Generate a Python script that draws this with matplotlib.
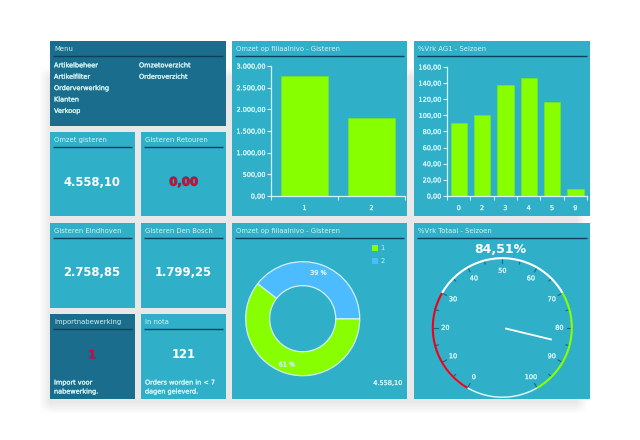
"""Recreate the sales dashboard: tile grid, two bar charts, a donut and a gauge."""
import matplotlib

matplotlib.use("Agg")
import matplotlib.patheffects as pe
import matplotlib.pyplot as plt
import numpy as np
from matplotlib.patches import Patch, Rectangle

# data
menu_col1 = ["Artikelbeheer", "Artikelfilter", "Orderverwerking", "Klanten", "Verkoop"]
menu_col2 = ["Omzetoverzicht", "Orderoverzicht"]
filiaal_labels = ["1", "2"]
filiaal_omzet = [2758.85, 1799.25]
filiaal_ticks = [0, 500, 1000, 1500, 2000, 2500, 3000]
ag_labels = ["0", "2", "3", "4", "5", "9"]
ag_values = [90, 100, 138, 146, 117, 9]
ag_ticks = [0, 20, 40, 60, 80, 100, 120, 140, 160]
gauge_value = 84.51
gauge_ticks = [0, 10, 20, 30, 40, 50, 60, 70, 80, 90, 100]

W, H = 640, 440
TILE = "#30b0c8"
DARK = "#1a6d8c"
LIGHT = "#d0f3f3"
LINE = "#0c3f58"
GREEN = "#88ff00"
BLUE = "#4cbcff"
RED = "#ee0018"
SMALL = 4.7


def nl(v, decimals=2):
    """Dutch number format, 2758.85 -> 2.758,85"""
    s = f"{v:,.{decimals}f}"
    return s.replace(",", "X").replace(".", ",").replace("X", ".")


# regular weight with a thin outline, closer to the blurry Verdana of the original
semi_bold = [pe.withStroke(linewidth=0.2, foreground=LIGHT)]

fig = plt.figure(figsize=(W / 100, H / 100), dpi=100, facecolor="white")
bg = fig.add_axes([0, 0, 1, 1])
bg.set_xlim(0, W)
bg.set_ylim(H, 0)
bg.axis("off")


def px_axes(x0, y0, x1, y1, **kw):
    return fig.add_axes([x0 / W, 1 - y1 / H, (x1 - x0) / W, (y1 - y0) / H], **kw)


def draw_shadow():
    mask = np.zeros((H, W))
    mask[72:408, 45:582] = 1.0
    kernel = np.ones(11) / 11
    for axis in (0, 1):
        mask = np.apply_along_axis(lambda m: np.convolve(m, kernel, mode="same"), axis, mask)
    rgba = np.zeros((H, W, 4))
    rgba[..., :3] = 0.91
    rgba[..., 3] = mask
    bg.imshow(rgba, extent=(0, W, H, 0), aspect="auto", zorder=0)
    bg.set_xlim(0, W)
    bg.set_ylim(H, 0)


def tile(x0, y0, x1, y1, title, color=TILE):
    bg.add_patch(Rectangle((x0, y0), x1 - x0, y1 - y0, fc=color, ec="none", zorder=1))
    bg.text(x0 + 4, y0 + 8, title, color=LIGHT, fontsize=4.95, va="center", ha="left", zorder=3)
    bg.plot([x0 + 3, x1 - 3], [y0 + 15, y0 + 15], color=LINE, lw=1.0, zorder=3,
            solid_capstyle="butt")


def big(x, y, s, color="white"):
    t = bg.text(x, y, s, color=color, fontsize=8.4, fontweight="bold", ha="center", va="center",
                zorder=3)
    if color == RED:
        t.set_path_effects([pe.withStroke(linewidth=0.8, foreground="#1a5f9a")])


def small(x, y, s, **kw):
    bg.text(x, y, s, color=LIGHT, fontsize=SMALL, va="center", zorder=3,
            path_effects=semi_bold, **kw)


draw_shadow()

# left column tiles
tile(50, 41, 226, 126, "Menu", DARK)
for i, name in enumerate(menu_col1):
    small(54, 65.3 + i * 11.4, name)
for i, name in enumerate(menu_col2):
    small(139, 65.3 + i * 11.4, name)

tile(50, 132, 135, 216, "Omzet gisteren")
big(92, 182, nl(sum(filiaal_omzet)))
tile(141, 132, 226, 216, "Gisteren Retouren")
big(183.5, 182, nl(0), RED)
tile(50, 223, 135, 308, "Gisteren Eindhoven")
big(92, 273, nl(filiaal_omzet[0]))
tile(141, 223, 226, 308, "Gisteren Den Bosch")
big(183.5, 273, nl(filiaal_omzet[1]))
tile(50, 314, 135, 399, "Importnabewerking", DARK)
big(92, 355, "1", RED)
small(54, 382.5, "Import voor")
small(54, 391.5, "nabewerking.")
tile(141, 314, 226, 399, "In nota")
big(183.5, 355, "121")
small(145, 382.5, "Orders worden in < 7")
small(145, 391.5, "dagen geleverd.")

# chart tiles
tile(232, 41, 407, 216, "Omzet op filiaalnivo - Gisteren")
tile(414, 41, 590, 216, "%Vrk AG1 - Seizoen")
tile(232, 223, 407, 399, "Omzet op filiaalnivo - Gisteren")
tile(414, 223, 590, 399, "%Vrk Totaal - Seizoen")


def bar_chart(ax, labels, values, ticks):
    n = len(labels)
    ax.patch.set_alpha(0)
    ax.bar(range(n), values, width=0.7, color=GREEN, edgecolor="#74e61a", linewidth=0.5)
    ax.set_xlim(-0.5, n - 0.5)
    ax.set_ylim(ticks[0], ticks[-1])
    ax.set_yticks(ticks, [nl(t) for t in ticks])
    ax.set_xticks(np.arange(n + 1) - 0.5, [""] * (n + 1))
    ax.set_xticks(range(n), labels, minor=True)
    ax.tick_params(axis="both", which="major", color=LIGHT, labelcolor=LIGHT, labelsize=SMALL,
                   length=3, width=0.8, pad=1.5)
    ax.tick_params(axis="x", which="minor", length=0, labelcolor=LIGHT, labelsize=SMALL, pad=6.5)
    for label in ax.get_yticklabels() + ax.get_xticklabels(minor=True):
        label.set_path_effects(semi_bold)
    for side in ("top", "right"):
        ax.spines[side].set_visible(False)
    for side in ("left", "bottom"):
        ax.spines[side].set_color(LIGHT)
        ax.spines[side].set_linewidth(0.9)


bar_chart(px_axes(271, 66, 405, 196), filiaal_labels, filiaal_omzet, filiaal_ticks)
bar_chart(px_axes(447, 67, 587, 196), ag_labels, ag_values, ag_ticks)

# donut, series 1 runs clockwise up to the 3 o'clock point
cx, cy, r = 302.7, 318.7, 57
ax_pie = px_axes(cx - r, cy - r, cx + r, cy + r)
share2 = filiaal_omzet[1] / sum(filiaal_omzet)
wedges, _, pct = ax_pie.pie(
    filiaal_omzet, colors=[GREEN, BLUE], startangle=360 * share2, radius=1.0,
    autopct=lambda p: f"{p:.0f} %", pctdistance=0.85,
    wedgeprops=dict(width=0.42, edgecolor=LIGHT, linewidth=0.9),
    textprops=dict(color=LIGHT, fontsize=SMALL),
)
for t in pct:
    t.set_path_effects(semi_bold)
ax_pie.set_xlim(-1, 1)
ax_pie.set_ylim(-1, 1)
legend_handles = [Patch(fc=GREEN, ec="none"), Patch(fc=BLUE, ec="none")]
ax_pie.legend(legend_handles, filiaal_labels, loc="upper left",
              bbox_to_anchor=(372 / W, 1 - 245 / H), bbox_transform=fig.transFigure,
              frameon=False, handlelength=0.95, handleheight=0.95, handletextpad=0.3,
              labelspacing=1.05, borderpad=0, borderaxespad=0,
              prop=dict(size=SMALL), labelcolor=LIGHT)
small(402, 383, nl(sum(filiaal_omzet)), ha="right")

# gauge: 0 sits at 240 deg, 100 at -60 deg
gx, gy, R = 502.3, 327.7, 72
ax_g = px_axes(gx - R, gy - R, gx + R, gy + R, projection="polar")
ax_g.patch.set_alpha(0)
ax_g.axis("off")
ax_g.set_ylim(0, R)


def val2theta(v):
    return np.radians(240 - 3.0 * np.asarray(v, dtype=float))


rim = 69.5
for v in range(0, 101, 5):
    major = v % 10 == 0
    ax_g.plot([val2theta(v)] * 2, [rim - (5 if major else 3.5), rim], color="#1d6478",
              lw=0.8, clip_on=False, zorder=1)
for lo, hi, col, lw in [(100, 130, "#d8f6f6", 1.1), (0, 30, RED, 1.5), (30, 70, "white", 1.5),
                        (70, 100, GREEN, 1.5)]:
    th = val2theta(np.arange(lo, hi + 0.5, 0.5))
    ax_g.plot(th, np.full_like(th, rim), color=col, lw=lw, solid_capstyle="butt", clip_on=False,
              zorder=2)
for v in gauge_ticks:
    t = ax_g.text(val2theta(v), 57, str(v), color=LIGHT, fontsize=SMALL,
                  ha="center", va="center")
    t.set_path_effects(semi_bold)
ax_g.plot([val2theta(gauge_value)] * 2, [3, 51], color="white", lw=1.3, solid_capstyle="butt")
bg.text(500.7, 249.7, nl(gauge_value) + "%", color="white", fontsize=9, fontweight="bold",
        ha="center", va="center", zorder=3)

fig.savefig("out.png", dpi=100)
plt.close(fig)
